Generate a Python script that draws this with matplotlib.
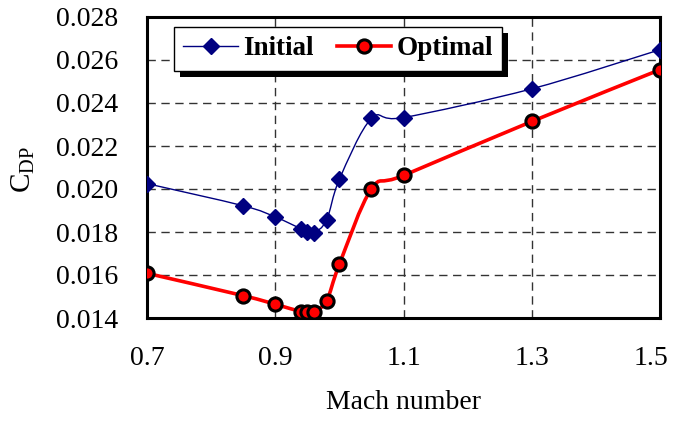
import matplotlib
matplotlib.use("Agg")
import matplotlib.pyplot as plt
import numpy as np
from matplotlib.path import Path
from matplotlib.patches import PathPatch, Rectangle
from matplotlib.transforms import IdentityTransform, ScaledTranslation

mach = [0.70, 0.85, 0.90, 0.94, 0.95, 0.96, 0.98, 1.00, 1.05, 1.10, 1.30, 1.50]
cdp_initial = [0.02025, 0.01922, 0.01870, 0.01815, 0.01800, 0.01795, 0.01855, 0.02045, 0.02328, 0.02332, 0.02466, 0.02648]
cdp_optimal = [0.01608, 0.01504, 0.01464, 0.01430, 0.01430, 0.01430, 0.01480, 0.01650, 0.02000, 0.02063, 0.02314, 0.02555]
series_names = ["Initial", "Optimal"]
xticks = [0.7, 0.9, 1.1, 1.3, 1.5]
yticks = [0.014, 0.016, 0.018, 0.020, 0.022, 0.024, 0.026, 0.028]

plt.rcParams['font.family'] = ['Liberation Serif', 'DejaVu Serif']
plt.rcParams['mathtext.fontset'] = 'custom'
plt.rcParams['mathtext.rm'] = 'Liberation Serif'

fig = plt.figure(figsize=(6.74, 4.21), dpi=100)
ax = fig.add_axes([147/674, 1-318/421, (660-147)/674, (318-17)/421])


def smooth_path(x, y):
    x = np.asarray(x, float)
    y = np.asarray(y, float)
    n = len(x)
    verts = [(x[0], y[0])]
    codes = [Path.MOVETO]
    for i in range(n - 1):
        p0 = np.array([x[max(i - 1, 0)], y[max(i - 1, 0)]])
        p1 = np.array([x[i], y[i]])
        p2 = np.array([x[i + 1], y[i + 1]])
        p3 = np.array([x[min(i + 2, n - 1)], y[min(i + 2, n - 1)]])
        c1 = p1 + (p2 - p0) / 6.0
        c2 = p2 - (p3 - p1) / 6.0
        verts += [tuple(c1), tuple(c2), tuple(p2)]
        codes += [Path.CURVE4] * 3
    return Path(verts, codes)


ax.add_patch(PathPatch(smooth_path(mach, cdp_initial), facecolor='none',
                       edgecolor='#000080', lw=1.0, zorder=3))
ax.add_patch(PathPatch(smooth_path(mach, cdp_optimal), facecolor='none',
                       edgecolor='#ff0000', lw=2.6, zorder=3))

ax.plot(mach, cdp_initial, linestyle='none', marker='D', ms=8.5,
        color='#000080', mec='#000080', zorder=4)
ax.plot(mach, cdp_optimal, linestyle='none', marker='o', ms=9.5,
        color='#ff0000', mec='black', mew=2.2, zorder=4)

# legend proxies
h1, = ax.plot([], [], color='#000080', lw=1.0, marker='D', ms=8.5, mec='#000080')
h2, = ax.plot([], [], color='#ff0000', lw=2.6, marker='o', ms=9.5, mec='black', mew=2.2)

ax.set_xlim(0.7, 1.5)
ax.set_ylim(0.014, 0.028)
ax.set_xticks(xticks)
ax.set_yticks(yticks)
ax.set_xticklabels([f"{v:.1f}" for v in xticks])
ax.set_yticklabels([f"{v:.3f}" for v in yticks])
ax.tick_params(axis='both', length=0, labelsize=20)
ax.tick_params(axis='x', pad=20)
ax.tick_params(axis='y', pad=21)
xlabels = ax.get_xticklabels()
last = xlabels[-1]
last.set_transform(last.get_transform() + ScaledTranslation(-9/100, 0, fig.dpi_scale_trans))

ax.grid(True, color='#333333', linestyle=(0, (6, 4)), lw=1.0)
ax.set_axisbelow(True)
for s in ax.spines.values():
    s.set_linewidth(2.2)
    s.set_color('black')

ax.set_xlabel('Mach number', fontsize=20, labelpad=14)
ax.set_ylabel(r'C$_{\mathrm{DP}}$', fontsize=21)
ax.yaxis.set_label_coords((37 - 147) / 513, (318 - 170) / 301)

leg = ax.legend([h1, h2], series_names, loc='upper left',
                bbox_to_anchor=((174-147)/513, (318-27)/301), borderaxespad=0,
                ncol=2, fancybox=False, frameon=True, edgecolor='black',
                framealpha=1, prop={'weight': 'bold', 'size': 19.5},
                handlelength=2.0, handletextpad=0.2, columnspacing=0.85,
                borderpad=0.35)
leg.get_frame().set_linewidth(1.0)
leg.set_zorder(6)

fig.canvas.draw()
bb = leg.get_window_extent()
shadow = Rectangle((bb.x0 + 6, bb.y0 - 6), bb.width, bb.height,
                   transform=IdentityTransform(), facecolor='black',
                   edgecolor='none', zorder=5.5, clip_on=False)
ax.add_patch(shadow)

fig.savefig('out.png', dpi=100)
